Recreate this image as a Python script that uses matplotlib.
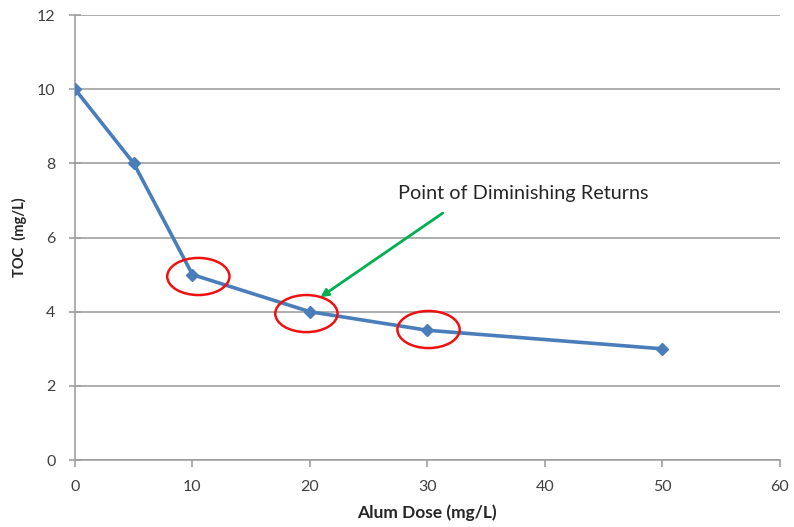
import matplotlib
matplotlib.use("Agg")
import matplotlib.pyplot as plt
from matplotlib.patches import Ellipse

# data
dose = [0, 5, 10, 20, 30, 50]
toc = [10, 8, 5, 4, 3.5, 3]
circled = [(10.5, 4.95), (19.7, 3.95), (30.1, 3.52)]

plt.rcParams['font.family'] = ['Lato', 'DejaVu Sans']

fig = plt.figure(figsize=(7.94, 5.27), dpi=100)
ax = fig.add_axes([0.0945, 0.127, 0.8875, 0.8445])

ax.plot(dose, toc, color='#4a7ebb', lw=2.6, marker='D', ms=6.5, zorder=3)

# red circles round the points
for cx, cy in circled:
    ax.add_patch(Ellipse((cx, cy), 5.3, 1.0, fill=False, ec='#ee1111', lw=1.8, zorder=4))

ax.annotate('', xy=(20.7, 4.35), xytext=(31.5, 6.7),
            arrowprops=dict(arrowstyle='-|>', color='#00b050', lw=2, mutation_scale=11))
ax.text(27.5, 7.2, 'Point of Diminishing Returns', fontsize=14.3, color='#262626', va='center')

ax.set_xlim(0, 60)
ax.set_ylim(0, 12)
ax.set_xticks(range(0, 61, 10))
ax.set_yticks(range(0, 13, 2))
ax.yaxis.grid(True, color='#a0a0a0', lw=1.2)
ax.set_axisbelow(True)
for s in ['top', 'right']:
    ax.spines[s].set_visible(False)
for s in ['left', 'bottom']:
    ax.spines[s].set_color('#a0a0a0')
    ax.spines[s].set_linewidth(1.2)
ax.tick_params(colors='#a0a0a0', labelcolor='#404040', labelsize=11.5, length=5, width=1.2)
ax.tick_params(axis='x', pad=9)
ax.tick_params(axis='y', direction='inout', length=8, pad=10)

ax.set_xlabel('Alum Dose (mg/L)', fontsize=12.5, fontweight='bold', color='#262626', labelpad=8)
ax.set_ylabel('TOC  (mg/L)', fontsize=10.5, fontweight='bold', color='#262626', labelpad=7)

fig.savefig('out.png', dpi=100)
